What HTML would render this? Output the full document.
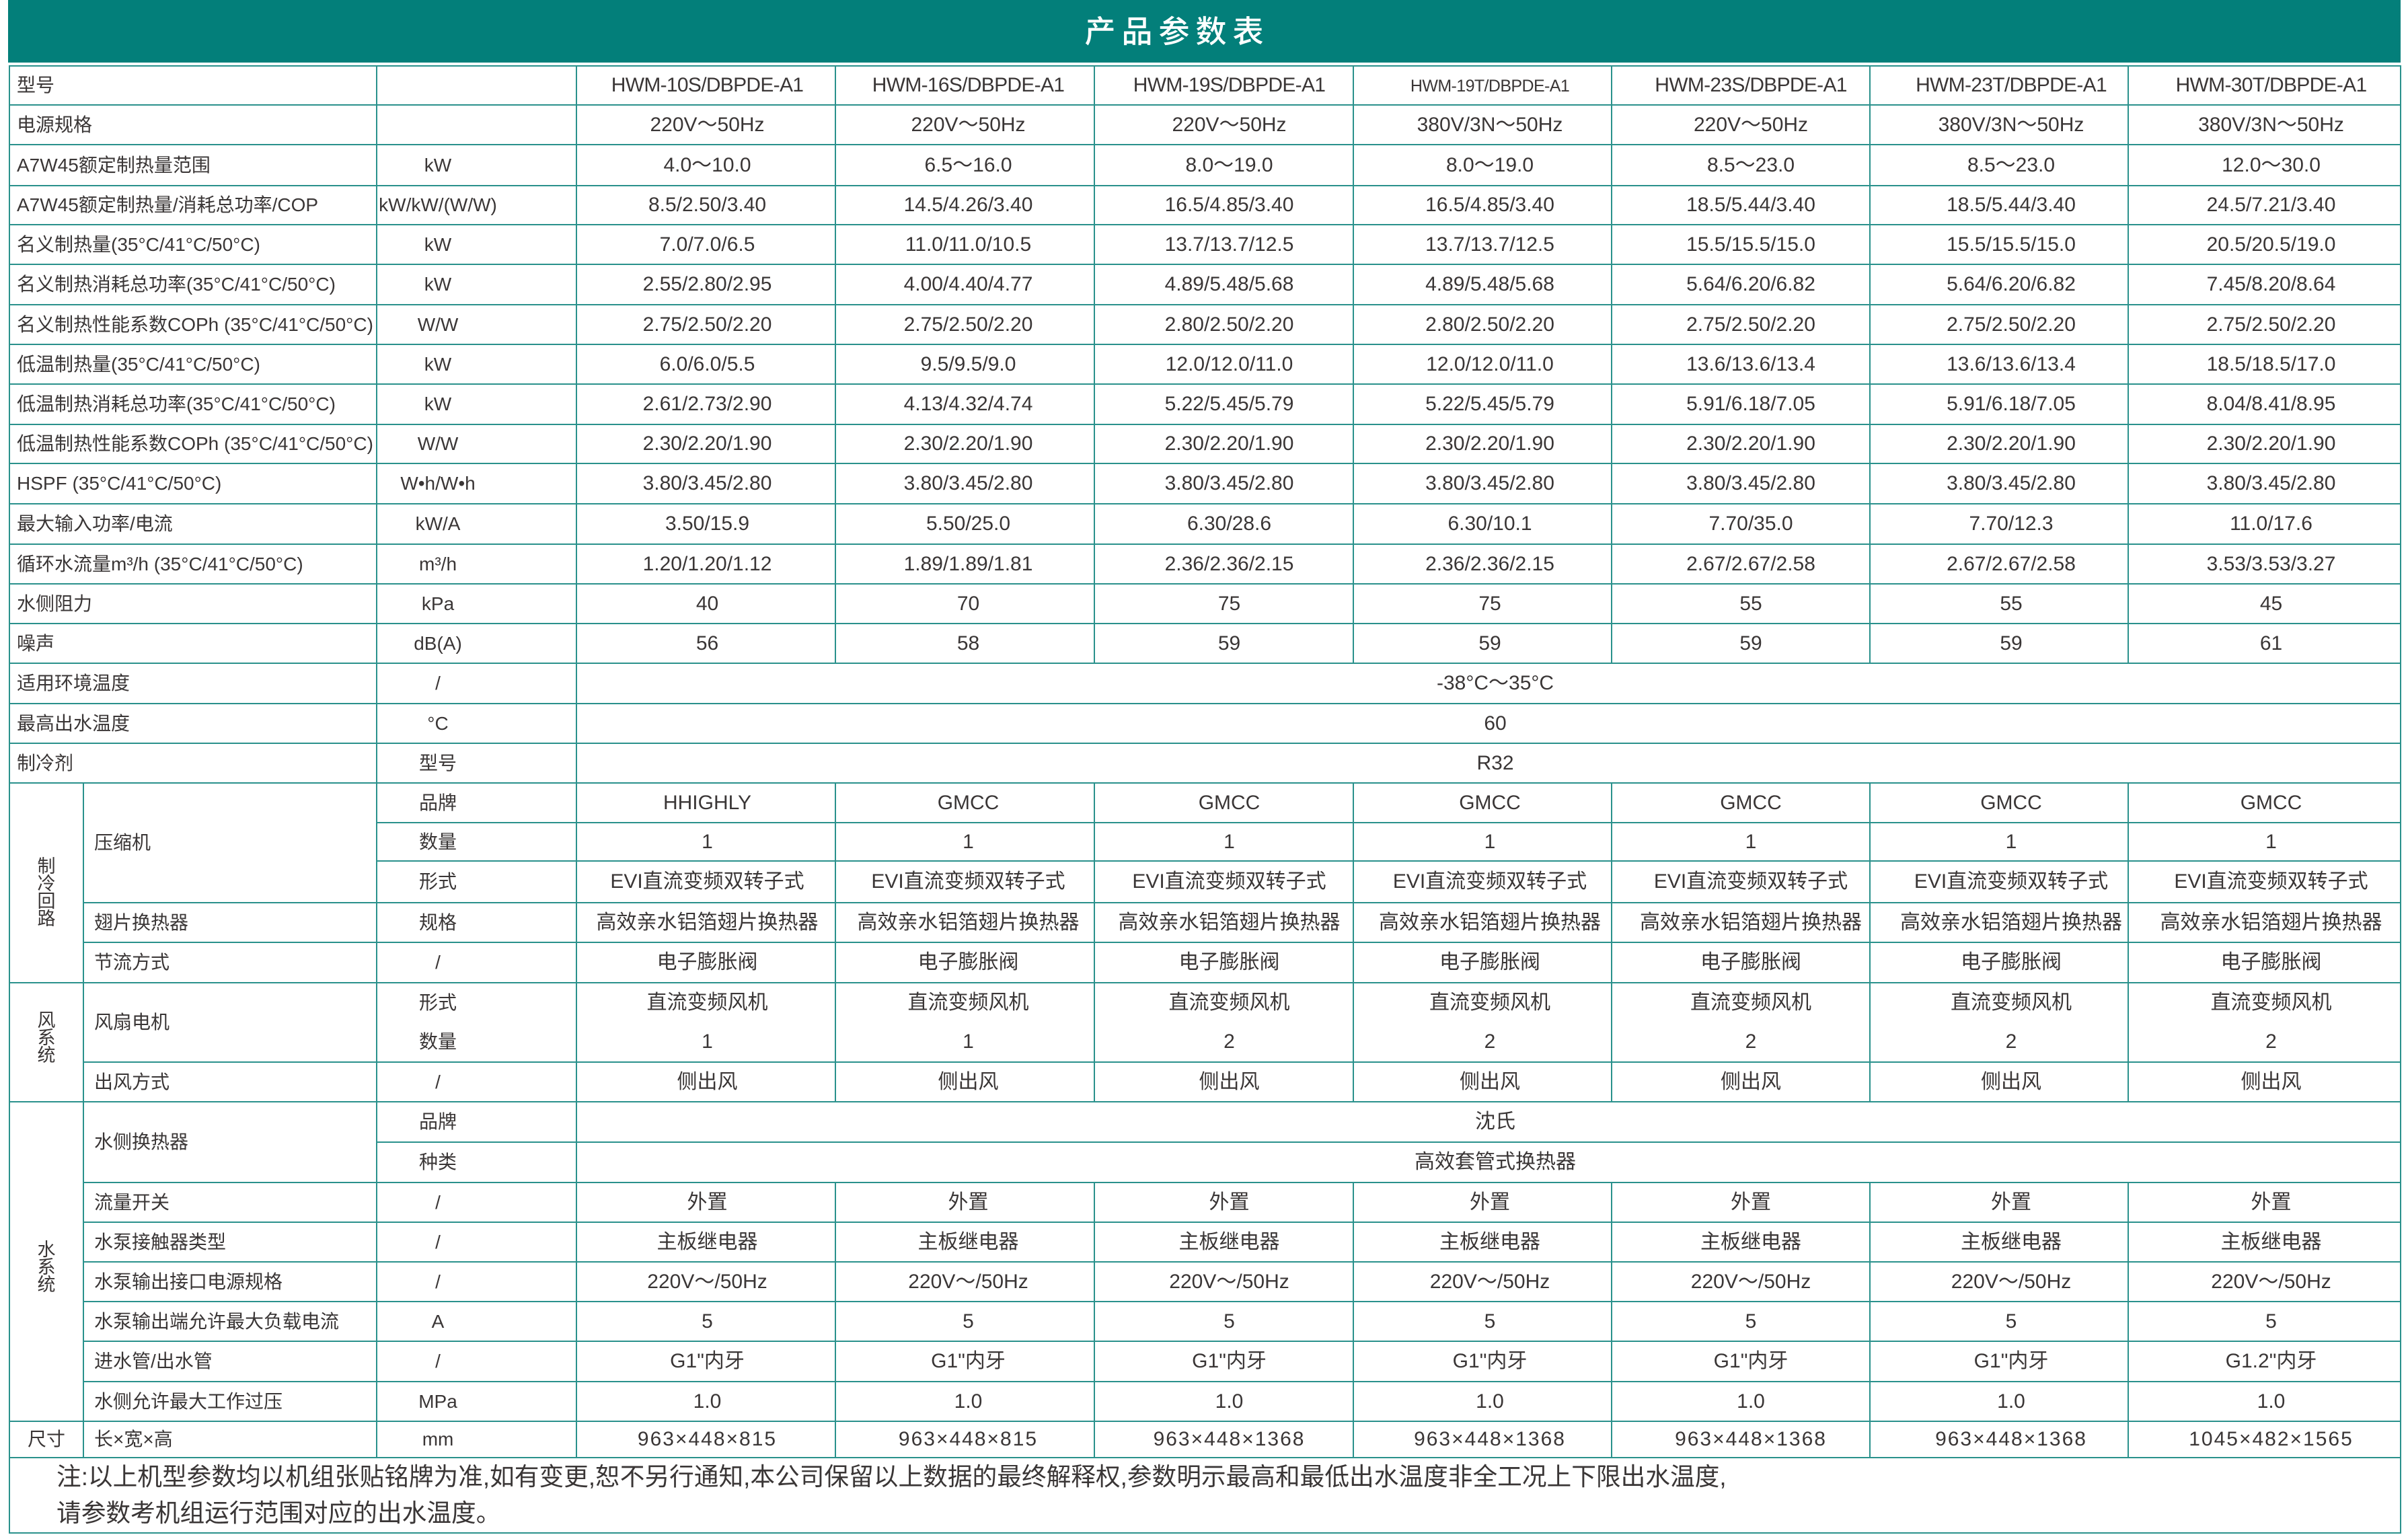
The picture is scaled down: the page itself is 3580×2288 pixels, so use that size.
<!DOCTYPE html>
<html>
<head>
<meta charset="utf-8">
<style>
html,body{margin:0;padding:0;}
body{width:3580px;height:2288px;background:#ffffff;position:relative;overflow:hidden;font-family:"Liberation Sans","Noto Sans CJK SC",sans-serif;color:#3a3636;}
.hdr{position:absolute;left:12px;top:0;width:3557px;height:93px;background:#037f7a;}
.title{position:absolute;left:1450px;top:1px;width:600px;height:93px;line-height:93px;text-align:center;color:#ffffff;font-size:46px;letter-spacing:9px;font-weight:500;font-family:"Liberation Sans","Noto Sans CJK SC",sans-serif;}
table{position:absolute;left:13px;top:97px;width:3555px;border-collapse:collapse;table-layout:fixed;}
td{border:2px solid #2a918c;padding:0;white-space:nowrap;text-align:center;vertical-align:middle;font-size:30px;line-height:36px;overflow:hidden;}
td:nth-last-child(7):not(.u):not(.s):not(.l):not(.g){padding-left:4px;}
td:nth-last-child(6):not(.u):not(.s):not(.l):not(.g){padding-left:10px;}
td:nth-last-child(5):not(.u):not(.s):not(.l):not(.g){padding-left:16px;}
td:nth-last-child(4):not(.u):not(.s):not(.l):not(.g){padding-left:22px;}
td:nth-last-child(3):not(.u):not(.s):not(.l):not(.g){padding-left:30px;}
td:nth-last-child(2):not(.u):not(.s):not(.l):not(.g){padding-left:36px;}
td:nth-last-child(1):not(.u):not(.s):not(.l):not(.g){padding-left:20px;}
td.l{text-align:left;padding-left:10px;font-size:28px;}
td.s{text-align:left;padding-left:15px;font-size:28px;}
td.u{padding-right:115px;font-size:28px;}
td.g{font-size:27px;line-height:26px;}
td.nb{border-bottom-style:hidden;}
td.d{letter-spacing:2px;}
.m{letter-spacing:-0.7px;}
.m2{letter-spacing:-0.6px;font-size:25px;}
table td.note{text-align:left;padding-left:69px !important;font-size:36.7px;line-height:54px;vertical-align:middle;}
</style>
</head>
<body>
<div class="hdr"></div>
<div class="title">产品参数表</div>
<table>
<colgroup>
<col style="width:110px"><col style="width:436px"><col style="width:297px">
<col style="width:385px"><col style="width:385px"><col style="width:385px">
<col style="width:384px"><col style="width:384px"><col style="width:384px">
<col style="width:405px">
</colgroup>
<tr style="height:58px"><td class="l" colspan="2">型号</td><td class="u"></td><td><span class="m">HWM-10S/DBPDE-A1</span></td><td><span class="m">HWM-16S/DBPDE-A1</span></td><td><span class="m">HWM-19S/DBPDE-A1</span></td><td><span class="m2">HWM-19T/DBPDE-A1</span></td><td><span class="m">HWM-23S/DBPDE-A1</span></td><td><span class="m">HWM-23T/DBPDE-A1</span></td><td><span class="m">HWM-30T/DBPDE-A1</span></td></tr>
<tr style="height:59px"><td class="l" colspan="2">电源规格</td><td class="u"></td><td>220V～50Hz</td><td>220V～50Hz</td><td>220V～50Hz</td><td>380V/3N～50Hz</td><td>220V～50Hz</td><td>380V/3N～50Hz</td><td>380V/3N～50Hz</td></tr>
<tr style="height:61px"><td class="l" colspan="2">A7W45额定制热量范围</td><td class="u">kW</td><td>4.0～10.0</td><td>6.5～16.0</td><td>8.0～19.0</td><td>8.0～19.0</td><td>8.5～23.0</td><td>8.5～23.0</td><td>12.0～30.0</td></tr>
<tr style="height:58px"><td class="l" colspan="2">A7W45额定制热量/消耗总功率/COP</td><td class="u">kW/kW/(W/W)</td><td>8.5/2.50/3.40</td><td>14.5/4.26/3.40</td><td>16.5/4.85/3.40</td><td>16.5/4.85/3.40</td><td>18.5/5.44/3.40</td><td>18.5/5.44/3.40</td><td>24.5/7.21/3.40</td></tr>
<tr style="height:59px"><td class="l" colspan="2">名义制热量(35°C/41°C/50°C)</td><td class="u">kW</td><td>7.0/7.0/6.5</td><td>11.0/11.0/10.5</td><td>13.7/13.7/12.5</td><td>13.7/13.7/12.5</td><td>15.5/15.5/15.0</td><td>15.5/15.5/15.0</td><td>20.5/20.5/19.0</td></tr>
<tr style="height:60px"><td class="l" colspan="2">名义制热消耗总功率(35°C/41°C/50°C)</td><td class="u">kW</td><td>2.55/2.80/2.95</td><td>4.00/4.40/4.77</td><td>4.89/5.48/5.68</td><td>4.89/5.48/5.68</td><td>5.64/6.20/6.82</td><td>5.64/6.20/6.82</td><td>7.45/8.20/8.64</td></tr>
<tr style="height:59px"><td class="l" colspan="2">名义制热性能系数COPh (35°C/41°C/50°C)</td><td class="u">W/W</td><td>2.75/2.50/2.20</td><td>2.75/2.50/2.20</td><td>2.80/2.50/2.20</td><td>2.80/2.50/2.20</td><td>2.75/2.50/2.20</td><td>2.75/2.50/2.20</td><td>2.75/2.50/2.20</td></tr>
<tr style="height:59px"><td class="l" colspan="2">低温制热量(35°C/41°C/50°C)</td><td class="u">kW</td><td>6.0/6.0/5.5</td><td>9.5/9.5/9.0</td><td>12.0/12.0/11.0</td><td>12.0/12.0/11.0</td><td>13.6/13.6/13.4</td><td>13.6/13.6/13.4</td><td>18.5/18.5/17.0</td></tr>
<tr style="height:60px"><td class="l" colspan="2">低温制热消耗总功率(35°C/41°C/50°C)</td><td class="u">kW</td><td>2.61/2.73/2.90</td><td>4.13/4.32/4.74</td><td>5.22/5.45/5.79</td><td>5.22/5.45/5.79</td><td>5.91/6.18/7.05</td><td>5.91/6.18/7.05</td><td>8.04/8.41/8.95</td></tr>
<tr style="height:58px"><td class="l" colspan="2">低温制热性能系数COPh (35°C/41°C/50°C)</td><td class="u">W/W</td><td>2.30/2.20/1.90</td><td>2.30/2.20/1.90</td><td>2.30/2.20/1.90</td><td>2.30/2.20/1.90</td><td>2.30/2.20/1.90</td><td>2.30/2.20/1.90</td><td>2.30/2.20/1.90</td></tr>
<tr style="height:60px"><td class="l" colspan="2">HSPF (35°C/41°C/50°C)</td><td class="u">W•h/W•h</td><td>3.80/3.45/2.80</td><td>3.80/3.45/2.80</td><td>3.80/3.45/2.80</td><td>3.80/3.45/2.80</td><td>3.80/3.45/2.80</td><td>3.80/3.45/2.80</td><td>3.80/3.45/2.80</td></tr>
<tr style="height:60px"><td class="l" colspan="2">最大输入功率/电流</td><td class="u">kW/A</td><td>3.50/15.9</td><td>5.50/25.0</td><td>6.30/28.6</td><td>6.30/10.1</td><td>7.70/35.0</td><td>7.70/12.3</td><td>11.0/17.6</td></tr>
<tr style="height:59px"><td class="l" colspan="2">循环水流量m³/h (35°C/41°C/50°C)</td><td class="u">m³/h</td><td>1.20/1.20/1.12</td><td>1.89/1.89/1.81</td><td>2.36/2.36/2.15</td><td>2.36/2.36/2.15</td><td>2.67/2.67/2.58</td><td>2.67/2.67/2.58</td><td>3.53/3.53/3.27</td></tr>
<tr style="height:59px"><td class="l" colspan="2">水侧阻力</td><td class="u">kPa</td><td>40</td><td>70</td><td>75</td><td>75</td><td>55</td><td>55</td><td>45</td></tr>
<tr style="height:59px"><td class="l" colspan="2">噪声</td><td class="u">dB(A)</td><td>56</td><td>58</td><td>59</td><td>59</td><td>59</td><td>59</td><td>61</td></tr>
<tr style="height:60px"><td class="l" colspan="2">适用环境温度</td><td class="u">/</td><td colspan="7">-38°C～35°C</td></tr>
<tr style="height:59px"><td class="l" colspan="2">最高出水温度</td><td class="u">°C</td><td colspan="7">60</td></tr>
<tr style="height:59px"><td class="l" colspan="2">制冷剂</td><td class="u">型号</td><td colspan="7">R32</td></tr>
<tr style="height:59px"><td class="g" rowspan="5" style="padding-top:28px">制<br>冷<br>回<br>路</td><td class="s" rowspan="3">压缩机</td><td class="u">品牌</td><td>HHIGHLY</td><td>GMCC</td><td>GMCC</td><td>GMCC</td><td>GMCC</td><td>GMCC</td><td>GMCC</td></tr>
<tr style="height:57px"><td class="u">数量</td><td>1</td><td>1</td><td>1</td><td>1</td><td>1</td><td>1</td><td>1</td></tr>
<tr style="height:62px"><td class="u">形式</td><td>EVI直流变频双转子式</td><td>EVI直流变频双转子式</td><td>EVI直流变频双转子式</td><td>EVI直流变频双转子式</td><td>EVI直流变频双转子式</td><td>EVI直流变频双转子式</td><td>EVI直流变频双转子式</td></tr>
<tr style="height:59px"><td class="s">翅片换热器</td><td class="u">规格</td><td>高效亲水铝箔翅片换热器</td><td>高效亲水铝箔翅片换热器</td><td>高效亲水铝箔翅片换热器</td><td>高效亲水铝箔翅片换热器</td><td>高效亲水铝箔翅片换热器</td><td>高效亲水铝箔翅片换热器</td><td>高效亲水铝箔翅片换热器</td></tr>
<tr style="height:60px"><td class="s">节流方式</td><td class="u">/</td><td>电子膨胀阀</td><td>电子膨胀阀</td><td>电子膨胀阀</td><td>电子膨胀阀</td><td>电子膨胀阀</td><td>电子膨胀阀</td><td>电子膨胀阀</td></tr>
<tr style="height:59px"><td class="g" rowspan="3" style="padding-bottom:14px">风<br>系<br>统</td><td class="s" rowspan="2">风扇电机</td><td class="u nb">形式</td><td class="nb">直流变频风机</td><td class="nb">直流变频风机</td><td class="nb">直流变频风机</td><td class="nb">直流变频风机</td><td class="nb">直流变频风机</td><td class="nb">直流变频风机</td><td class="nb">直流变频风机</td></tr>
<tr style="height:59px"><td class="u">数量</td><td>1</td><td>1</td><td>2</td><td>2</td><td>2</td><td>2</td><td>2</td></tr>
<tr style="height:59px"><td class="s">出风方式</td><td class="u">/</td><td>侧出风</td><td>侧出风</td><td>侧出风</td><td>侧出风</td><td>侧出风</td><td>侧出风</td><td>侧出风</td></tr>
<tr style="height:60px"><td class="g" rowspan="8" style="padding-top:16px">水<br>系<br>统</td><td class="s" rowspan="2">水侧换热器</td><td class="u">品牌</td><td colspan="7">沈氏</td></tr>
<tr style="height:60px"><td class="u">种类</td><td colspan="7">高效套管式换热器</td></tr>
<tr style="height:59px"><td class="s">流量开关</td><td class="u">/</td><td>外置</td><td>外置</td><td>外置</td><td>外置</td><td>外置</td><td>外置</td><td>外置</td></tr>
<tr style="height:59px"><td class="s">水泵接触器类型</td><td class="u">/</td><td>主板继电器</td><td>主板继电器</td><td>主板继电器</td><td>主板继电器</td><td>主板继电器</td><td>主板继电器</td><td>主板继电器</td></tr>
<tr style="height:59px"><td class="s">水泵输出接口电源规格</td><td class="u">/</td><td>220V～/50Hz</td><td>220V～/50Hz</td><td>220V～/50Hz</td><td>220V～/50Hz</td><td>220V～/50Hz</td><td>220V～/50Hz</td><td>220V～/50Hz</td></tr>
<tr style="height:59px"><td class="s">水泵输出端允许最大负载电流</td><td class="u">A</td><td>5</td><td>5</td><td>5</td><td>5</td><td>5</td><td>5</td><td>5</td></tr>
<tr style="height:60px"><td class="s">进水管/出水管</td><td class="u">/</td><td>G1"内牙</td><td>G1"内牙</td><td>G1"内牙</td><td>G1"内牙</td><td>G1"内牙</td><td>G1"内牙</td><td>G1.2"内牙</td></tr>
<tr style="height:59px"><td class="s">水侧允许最大工作过压</td><td class="u">MPa</td><td>1.0</td><td>1.0</td><td>1.0</td><td>1.0</td><td>1.0</td><td>1.0</td><td>1.0</td></tr>
<tr style="height:54px"><td class="g" style="font-size:28px;line-height:36px">尺寸</td><td class="s">长×宽×高</td><td class="u">mm</td><td class="d">963×448×815</td><td class="d">963×448×815</td><td class="d">963×448×1368</td><td class="d">963×448×1368</td><td class="d">963×448×1368</td><td class="d">963×448×1368</td><td class="d">1045×482×1565</td></tr>
<tr style="height:112px"><td class="note" colspan="10">注:以上机型参数均以机组张贴铭牌为准,如有变更,恕不另行通知,本公司保留以上数据的最终解释权,参数明示最高和最低出水温度非全工况上下限出水温度,<br>请参数考机组运行范围对应的出水温度。</td></tr>
</table>
</body>
</html>
